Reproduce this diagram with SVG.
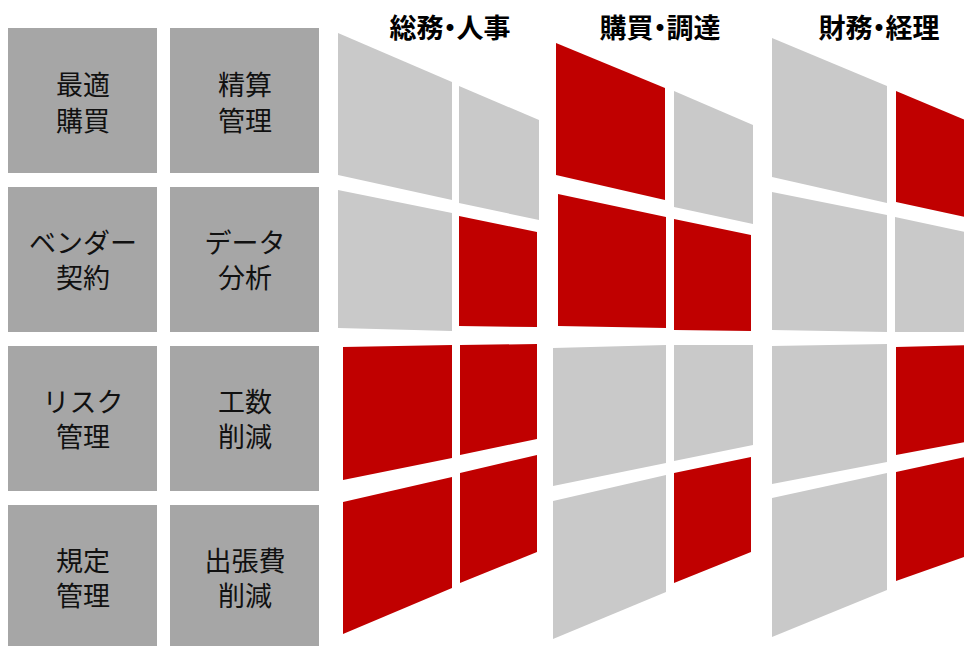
<svg xmlns="http://www.w3.org/2000/svg" width="964" height="646" viewBox="0 0 964 646">
<style>
.box{fill:#a6a6a6}
.lbl{font-family:"Noto Sans CJK JP","Noto Sans",sans-serif;font-size:27px;fill:#111;text-anchor:middle;dominant-baseline:central}
.hdr{font-family:"Noto Sans CJK JP","Noto Sans",sans-serif;font-size:27px;font-weight:bold;fill:#000;text-anchor:middle;dominant-baseline:central}
.g{fill:#c9c9c9}
.r{fill:#c00000}
</style>
<rect width="964" height="646" fill="#fff"/>
<g id="headers">
<text class="hdr" x="450" y="26">総務<tspan dx="-7">・</tspan><tspan dx="-7">人事</tspan></text>
<text class="hdr" x="660" y="26">購買<tspan dx="-7">・</tspan><tspan dx="-7">調達</tspan></text>
<text class="hdr" x="879" y="26">財務<tspan dx="-7">・</tspan><tspan dx="-7">経理</tspan></text>
</g>
<g id="n-saiteki"><rect class="box" x="8" y="28" width="149" height="145"/><text class="lbl" x="83" y="83">最適</text><text class="lbl" x="83" y="119">購買</text></g>
<g id="n-seisan"><rect class="box" x="170" y="28" width="149" height="145"/><text class="lbl" x="245" y="83">精算</text><text class="lbl" x="245" y="119">管理</text></g>
<g id="n-vendor"><rect class="box" x="8" y="187" width="149" height="145"/><text class="lbl" x="83" y="241">ベンダー</text><text class="lbl" x="83" y="276">契約</text></g>
<g id="n-data"><rect class="box" x="170" y="187" width="149" height="145"/><text class="lbl" x="245" y="241">データ</text><text class="lbl" x="245" y="276">分析</text></g>
<g id="n-risk"><rect class="box" x="8" y="346" width="149" height="145"/><text class="lbl" x="83" y="400">リスク</text><text class="lbl" x="83" y="435">管理</text></g>
<g id="n-kousu"><rect class="box" x="170" y="346" width="149" height="145"/><text class="lbl" x="245" y="400">工数</text><text class="lbl" x="245" y="435">削減</text></g>
<g id="n-kitei"><rect class="box" x="8" y="505" width="149" height="145"/><text class="lbl" x="83" y="559">規定</text><text class="lbl" x="83" y="594">管理</text></g>
<g id="n-shutcho"><rect class="box" x="170" y="505" width="149" height="145"/><text class="lbl" x="245" y="559">出張費</text><text class="lbl" x="245" y="594">削減</text></g>
<g id="col-soumu">
<polygon class="g" points="338,33 452,82 452,200 338,175"/>
<polygon class="g" points="459,86 539,120 539,220 459,203"/>
<polygon class="g" points="338,190 452,213 452,331 338,328"/>
<polygon class="r" points="459,216 537,232 537,327 459,326"/>
<polygon class="r" points="343,347 452,345 452,458 343,480"/>
<polygon class="r" points="460,345 537,344 537,439 460,455"/>
<polygon class="r" points="343,502 452,477 452,588 343,634"/>
<polygon class="r" points="460,473 537,455 537,552 460,583"/>
</g>
<g id="col-kobai">
<polygon class="r" points="556,43 665,88 665,200 556,175"/>
<polygon class="g" points="674,91 753,125 753,224 674,207"/>
<polygon class="r" points="558,194 666,217 666,328 558,326"/>
<polygon class="r" points="674,219 751,235 751,331 674,330"/>
<polygon class="g" points="553,348 666,345 666,463 553,486"/>
<polygon class="g" points="674,345 753,345 753,445 674,461"/>
<polygon class="g" points="553,501 666,475 666,592 553,639"/>
<polygon class="r" points="674,473 751,457 751,552 674,583"/>
</g>
<g id="col-zaimu">
<polygon class="g" points="772,38 887,86 887,203 772,177"/>
<polygon class="r" points="896,91 970,122 970,218 896,202"/>
<polygon class="g" points="772,192 887,215 887,332 772,330"/>
<polygon class="g" points="895,217 970,233 970,332 895,332"/>
<polygon class="g" points="772,346 887,344 887,462 772,484"/>
<polygon class="r" points="896,347 970,345 970,441 896,455"/>
<polygon class="g" points="772,498 887,473 887,590 772,637"/>
<polygon class="r" points="896,472 970,456 970,555 896,581"/>
</g>
<g id="connectors"/>
</svg>
